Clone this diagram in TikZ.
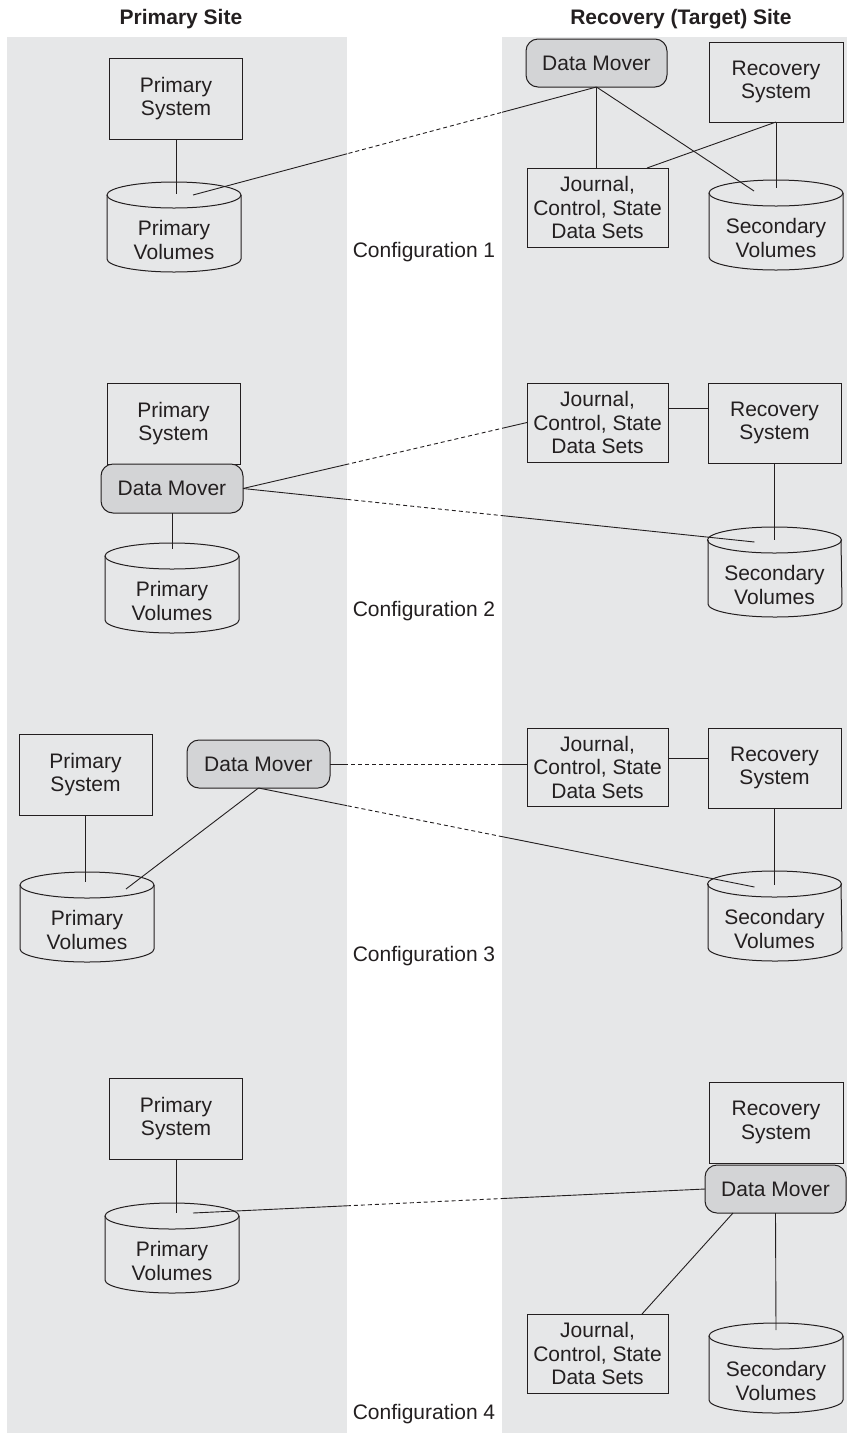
\documentclass[tikz,border=0pt]{standalone}
\usepackage{fontspec}
\setmainfont{Liberation Sans}
\usetikzlibrary{calc}
\definecolor{panel}{RGB}{230,231,232}
\definecolor{dmfill}{RGB}{211,212,214}
\definecolor{ink}{RGB}{35,31,32}
\newcommand\cylout[1]{%
  \draw[outline] ($(#1.north west)+(0,-13)$) -- ($(#1.south west)+(0,-13)$)
     arc[start angle=180,end angle=360,x radius=67pt,y radius=13pt]
     -- ($(#1.north east)+(0,-13)$);
  \draw[outline] ($(#1.north)+(0,-13)$) ellipse [x radius=67pt,y radius=13pt];}
\newcommand\crosslink[2]{%
  \begin{scope}
    \clip (7,37) rectangle (347,1433) (502,37) rectangle (847,1433);
    \draw[link] #1 -- #2;
  \end{scope}
  \begin{scope}
    \clip (347,0) rectangle (502,1433);
    \draw[link,dash pattern=on 4pt off 3pt] #1 -- #2;
  \end{scope}}
\begin{document}
\begin{tikzpicture}[x=1pt,y=-1pt,
  txt/.style={font=\fontsize{21}{23.5}\selectfont,text=ink,align=center},
  outline/.style={draw=ink,line width=1pt},
  boxnode/.style={txt,outline,rectangle,inner sep=2pt,outer sep=0pt,minimum width=133pt,minimum height=81pt},
  jbox/.style={boxnode,minimum width=141pt,minimum height=79pt},
  mover/.style={txt,outline,fill=dmfill,rectangle,rounded corners=12pt,inner sep=2pt,outer sep=0pt,minimum width=141pt,minimum height=48pt},
  cyl/.style={txt,rectangle,inner sep=0pt,outer sep=0pt,minimum width=134pt,minimum height=64pt},
  link/.style={draw=ink,line width=0.9pt},
  title/.style={font=\fontsize{21}{24}\selectfont\bfseries,text=ink},
  conf/.style={txt}]
\useasboundingbox (0,0) rectangle (847,1433);
\fill[white] (0,0) rectangle (847,1433);
\fill[panel] (7,37) rectangle (347,1433);
\fill[panel] (502,37) rectangle (847,1433);

\node[title] (tp) at (181,19) {Primary Site};
\node[title] (tr) at (681,19) {Recovery (Target) Site};

% ---------- Configuration 1
\node[boxnode] (ps1) at (176,98.5) {Primary\\System};
\node[cyl] (pv1) at (174,240) {Primary\\Volumes};
\node[mover] (dm1) at (596.5,63) {Data Mover};
\node[boxnode,minimum width=134pt,minimum height=80pt] (rs1) at (776,82) {Recovery\\System};
\node[jbox] (j1) at (597.5,207.5) {Journal,\\Control, State\\Data Sets};
\node[cyl] (sv1) at (776,238) {Secondary\\Volumes};
\cylout{pv1}\cylout{sv1}
\node[conf] (c1) at (424,252) {Configuration 1};
\draw[link] (ps1.south) -- ($(ps1.south |- pv1.north)+(0,-14)$);
\crosslink{($(pv1.north)+(19,-13)$)}{(dm1.south)}
\draw[link] (dm1.south) -- (dm1.south |- j1.north);
\draw[link] (dm1.south) -- ($(sv1.north)+(-22,-15)$);
\draw[link] (rs1.south) -- ($(j1.north east)+(-21,0)$);
\draw[link] (rs1.south) -- ($(sv1.north)+(0,-18)$);

% ---------- Configuration 2
\node[boxnode] (ps2) at (173.5,423.5) {Primary\\System};
\node[mover,minimum width=142pt,minimum height=49pt] (dm2) at (172,488.5) {Data Mover};
\node[cyl] (pv2) at (172,601) {Primary\\Volumes};
\node[jbox] (j2) at (597.5,422.5) {Journal,\\Control, State\\Data Sets};
\node[boxnode,minimum height=80pt] (rs2) at (774.5,423) {Recovery\\System};
\node[cyl,minimum width=133pt] (sv2) at (774.5,585) {Secondary\\Volumes};
\cylout{pv2}\cylout{sv2}
\node[conf] (c2) at (424,611) {Configuration 2};
\draw[link] (dm2.south) -- ($(pv2.north)+(0,-20)$);
\draw[link] ($(j2.north east)+(0,25)$) -- ($(rs2.north west)+(0,25)$);
\crosslink{(dm2.east)}{(j2.west)}
\crosslink{(dm2.east)}{($(sv2.north)+(-20,-11)$)}
\draw[link] (rs2.south) -- ($(sv2.north)+(0,-13)$);

% ---------- Configuration 3
\node[boxnode] (ps3) at (85.5,774.5) {Primary\\System};
\node[mover,minimum width=143pt] (dm3) at (258.5,764) {Data Mover};
\node[cyl] (pv3) at (87,930) {Primary\\Volumes};
\node[jbox,minimum height=78pt] (j3) at (597.5,767) {Journal,\\Control, State\\Data Sets};
\node[boxnode,minimum height=80pt] (rs3) at (774.5,768) {Recovery\\System};
\node[cyl,minimum width=133pt] (sv3) at (774.5,929) {Secondary\\Volumes};
\cylout{pv3}\cylout{sv3}
\node[conf] (c3) at (424,956) {Configuration 3};
\draw[link] (ps3.south) -- ($(ps3.south |- pv3.north)+(0,-16)$);
\draw[link] (dm3.south) -- ($(pv3.north)+(39,-9)$);
\crosslink{(dm3.east)}{(dm3.east -| j3.west)}
\crosslink{(dm3.south)}{($(sv3.north)+(-20,-10)$)}
\draw[link] ($(j3.north east)+(0,30)$) -- ($(rs3.north west)+(0,30)$);
\draw[link] (rs3.south) -- ($(sv3.north)+(0,-12)$);

% ---------- Configuration 4
\node[boxnode] (ps4) at (176,1118.5) {Primary\\System};
\node[cyl] (pv4) at (172,1261) {Primary\\Volumes};
\node[boxnode,minimum width=134pt] (rs4) at (776,1122.5) {Recovery\\System};
\node[mover] (dm4) at (775.5,1189) {Data Mover};
\node[jbox] (j4) at (597.5,1353.5) {Journal,\\Control, State\\Data Sets};
\node[cyl] (sv4) at (776,1381) {Secondary\\Volumes};
\cylout{pv4}\cylout{sv4}
\node[conf] (c4) at (424,1414) {Configuration 4};
\draw[link] (ps4.south) -- ($(ps4.south |- pv4.north)+(0,-16)$);
\crosslink{($(pv4.north)+(21,-16)$)}{(dm4.west)}
\draw[link] ($(dm4.south west)+(28,0)$) -- ($(j4.north east)+(-26,0)$);
\draw[link] (dm4.south) -- ($(sv4.north)+(0,-19)$);
\end{tikzpicture}
\end{document}
